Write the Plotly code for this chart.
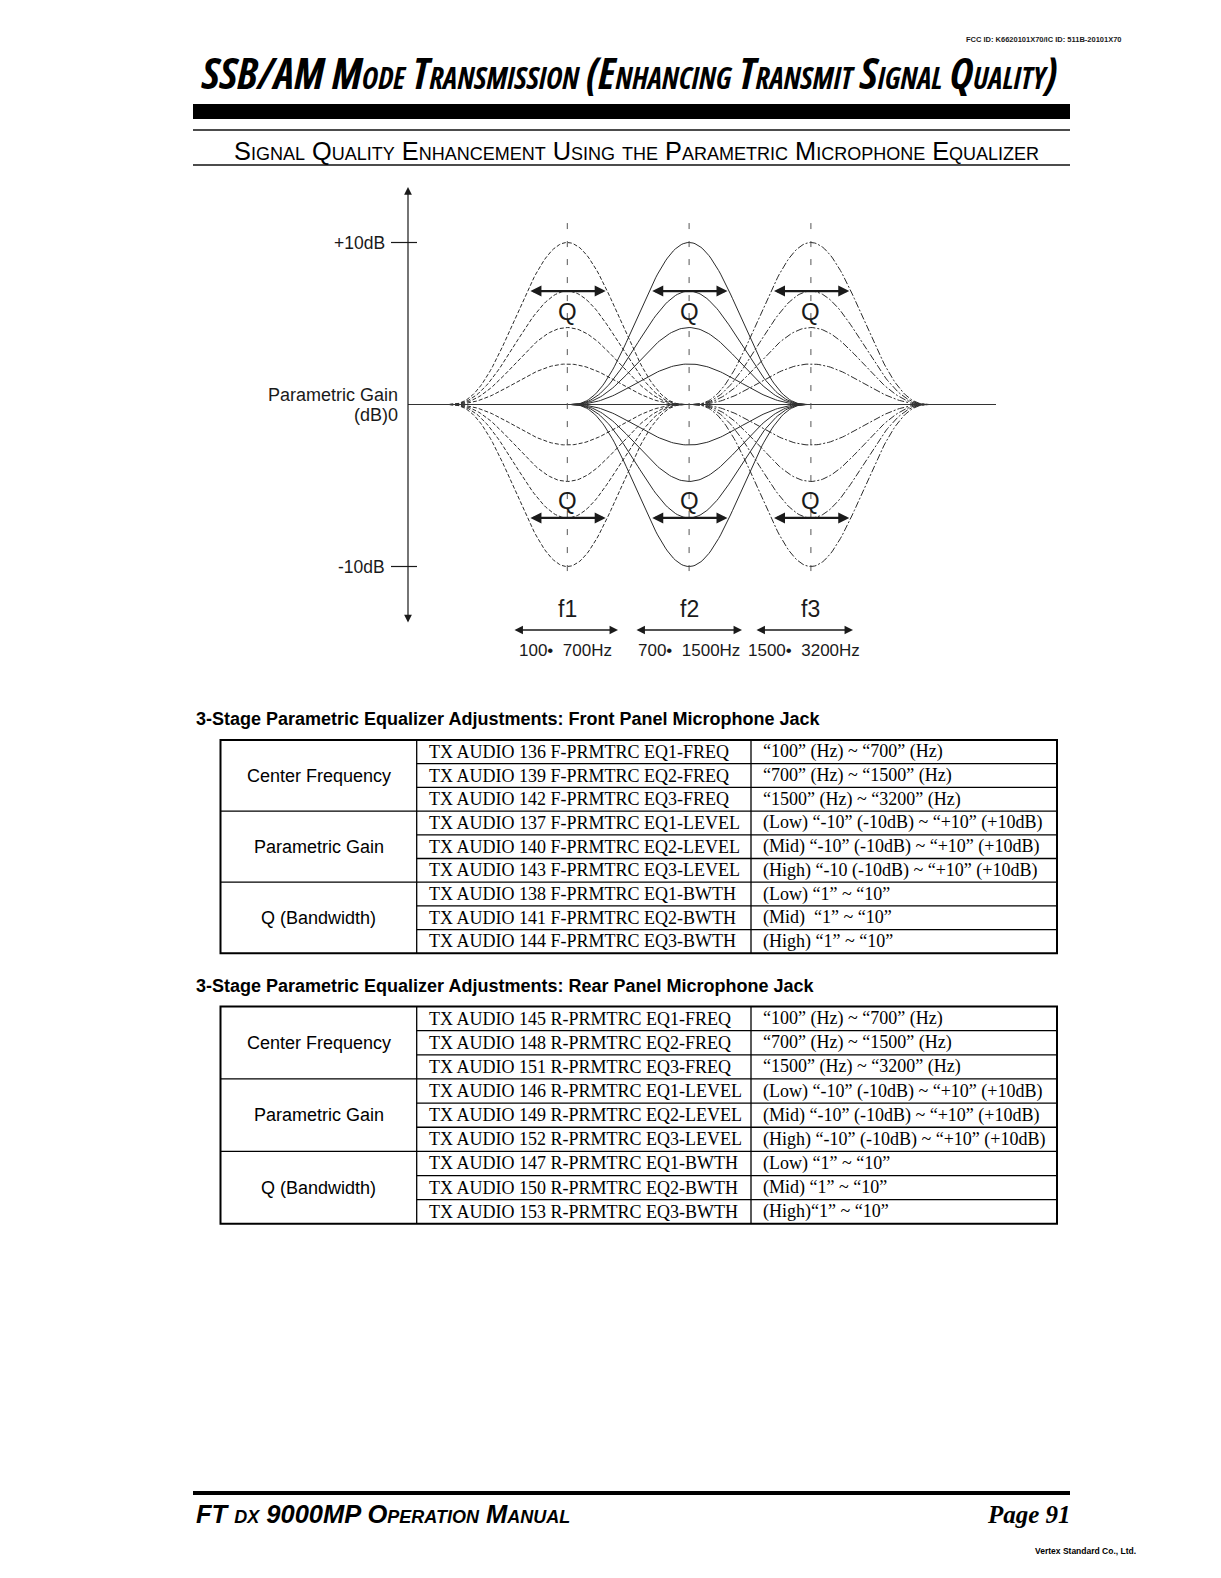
import numpy as np
import plotly.graph_objects as go

W, H = 1221, 1578
OFF = 8  # default page margin of the html body

# ---------------- data ----------------
center_labels = ["f1", "f2", "f3"]
center_pos = [1.0, 2.0, 3.0]
range_labels = ["100\u2022  700Hz", "700\u2022  1500Hz", "1500\u2022  3200Hz"]
range_span = [(513, 618), (635, 742), (755, 853)]          # px extents of the range arrows
gain_levels = [10, 7, 4.75, 2.5, -2.5, -4.75, -7, -10]     # dB
band_halfwidth = 0.97                                       # in f-spacing units
q_halfwidth = 0.315
q_level = 7
axis_tick_values = [10, -10]
axis_tick_labels = ["+10dB", "-10dB"]

table_groups = ["Center Frequency", "Parametric Gain", "Q (Bandwidth)"]
front_items = [
    "TX AUDIO 136 F-PRMTRC EQ1-FREQ", "TX AUDIO 139 F-PRMTRC EQ2-FREQ", "TX AUDIO 142 F-PRMTRC EQ3-FREQ",
    "TX AUDIO 137 F-PRMTRC EQ1-LEVEL", "TX AUDIO 140 F-PRMTRC EQ2-LEVEL", "TX AUDIO 143 F-PRMTRC EQ3-LEVEL",
    "TX AUDIO 138 F-PRMTRC EQ1-BWTH", "TX AUDIO 141 F-PRMTRC EQ2-BWTH", "TX AUDIO 144 F-PRMTRC EQ3-BWTH",
]
front_ranges = [
    "\u201c100\u201d (Hz) ~ \u201c700\u201d (Hz)", "\u201c700\u201d (Hz) ~ \u201c1500\u201d (Hz)",
    "\u201c1500\u201d (Hz) ~ \u201c3200\u201d (Hz)",
    "(Low) \u201c-10\u201d (-10dB) ~ \u201c+10\u201d (+10dB)", "(Mid) \u201c-10\u201d (-10dB) ~ \u201c+10\u201d (+10dB)",
    "(High) \u201c-10 (-10dB) ~ \u201c+10\u201d (+10dB)",
    "(Low) \u201c1\u201d ~ \u201c10\u201d", "(Mid)  \u201c1\u201d ~ \u201c10\u201d", "(High) \u201c1\u201d ~ \u201c10\u201d",
]
rear_items = [
    "TX AUDIO 145 R-PRMTRC EQ1-FREQ", "TX AUDIO 148 R-PRMTRC EQ2-FREQ", "TX AUDIO 151 R-PRMTRC EQ3-FREQ",
    "TX AUDIO 146 R-PRMTRC EQ1-LEVEL", "TX AUDIO 149 R-PRMTRC EQ2-LEVEL", "TX AUDIO 152 R-PRMTRC EQ3-LEVEL",
    "TX AUDIO 147 R-PRMTRC EQ1-BWTH", "TX AUDIO 150 R-PRMTRC EQ2-BWTH", "TX AUDIO 153 R-PRMTRC EQ3-BWTH",
]
rear_ranges = [
    "\u201c100\u201d (Hz) ~ \u201c700\u201d (Hz)", "\u201c700\u201d (Hz) ~ \u201c1500\u201d (Hz)",
    "\u201c1500\u201d (Hz) ~ \u201c3200\u201d (Hz)",
    "(Low) \u201c-10\u201d (-10dB) ~ \u201c+10\u201d (+10dB)", "(Mid) \u201c-10\u201d (-10dB) ~ \u201c+10\u201d (+10dB)",
    "(High) \u201c-10\u201d (-10dB) ~ \u201c+10\u201d (+10dB)",
    "(Low) \u201c1\u201d ~ \u201c10\u201d", "(Mid) \u201c1\u201d ~ \u201c10\u201d", "(High)\u201c1\u201d ~ \u201c10\u201d",
]

# ---------------- geometry helpers ----------------
F1_PX, F_UNIT = 567.3, 121.8      # page px of f1 and px per f-spacing
ZERO_PX, DB_UNIT = 404.5, 16.2    # page px of 0 dB and px per dB
FW, FH = W - OFF, H - OFF


def dx(px):
    return 1 + (px - F1_PX) / F_UNIT


def dy(py):
    return (ZERO_PX - py) / DB_UNIT


def pxp(px):
    return (px - OFF) / FW


def pyp(py):
    return 1 - (py - OFF) / FH


SANS = "Liberation Sans, Arial, sans-serif"
SERIF = "Liberation Serif, Times New Roman, serif"
INK = "#1a1a1a"

fig = go.Figure()

# ---------------- EQ curves ----------------
dash_styles = ["4px,2px", "solid", "7px,2px,2px,2px"]
t = np.linspace(-1, 1, 121)
bell = (0.5 * (1 + np.cos(np.pi * t))) ** 1.2
for ci, c in enumerate(center_pos):
    for g in gain_levels:
        fig.add_trace(go.Scatter(
            x=c + band_halfwidth * t, y=g * bell, mode="lines",
            line=dict(color="#2b2b2b", width=1, dash=dash_styles[ci]),
            hoverinfo="skip", showlegend=False))

shapes = []
ann = []

# baseline
shapes.append(dict(type="line", xref="x", yref="y", x0=dx(408), x1=dx(996), y0=0, y1=0,
                   line=dict(color="#333", width=1.2)))
# centre dashed lines
for c in center_pos:
    shapes.append(dict(type="line", xref="x", yref="y", x0=c, x1=c, y0=11.2, y1=-10.7,
                       line=dict(color="#555", width=1, dash="6px,12px")))
# y-axis double arrow
ann.append(dict(x=dx(408), y=dy(187), ax=dx(408), ay=dy(624), xref="x", yref="y", axref="x", ayref="y",
                text="", showarrow=True, arrowhead=2, arrowsize=1.3, arrowwidth=1.2, arrowcolor=INK,
                arrowside="end+start", standoff=0, startstandoff=0))
# ticks and tick labels
for v, lab in zip(axis_tick_values, axis_tick_labels):
    shapes.append(dict(type="line", xref="x", yref="y", x0=dx(391), x1=dx(417), y0=v, y1=v,
                       line=dict(color=INK, width=1.2)))
    ann.append(dict(x=dx(387), y=v, xref="x", yref="y", text=lab, showarrow=False, xanchor="right",
                    yanchor="middle", font=dict(family=SANS, size=17.5, color=INK)))
ann.append(dict(x=dx(400), y=dy(395), xref="x", yref="y", text="Parametric Gain", showarrow=False,
                xanchor="right", yanchor="middle", font=dict(family=SANS, size=18, color=INK)))
ann.append(dict(x=dx(400), y=dy(415), xref="x", yref="y", text="(dB)0", showarrow=False,
                xanchor="right", yanchor="middle", font=dict(family=SANS, size=18, color=INK)))

# Q arrows + labels
for c in center_pos:
    for sgn in (1, -1):
        ann.append(dict(x=c + q_halfwidth, y=sgn * q_level, ax=c - q_halfwidth, ay=sgn * q_level,
                        xref="x", yref="y", axref="x", ayref="y", text="", showarrow=True,
                        arrowhead=2, arrowsize=1, arrowwidth=2.2, arrowcolor=INK,
                        arrowside="end+start", standoff=0, startstandoff=0))
        ann.append(dict(x=c, y=sgn * 5.85 - 0.1, xref="x", yref="y", text="Q", showarrow=False,
                        xanchor="center", yanchor="middle", font=dict(family=SANS, size=24, color=INK)))

# frequency labels, ranges
for c, lab, rl, (a, b) in zip(center_pos, center_labels, range_labels, range_span):
    ann.append(dict(x=c, y=dy(609), xref="x", yref="y", text=lab, showarrow=False,
                    xanchor="center", yanchor="middle", font=dict(family=SANS, size=23, color=INK)))
    ann.append(dict(x=dx(b), y=dy(630), ax=dx(a), ay=dy(630), xref="x", yref="y", axref="x", ayref="y",
                    text="", showarrow=True, arrowhead=2, arrowsize=1.3, arrowwidth=1.3, arrowcolor=INK,
                    arrowside="end+start", standoff=0, startstandoff=0))
    ann.append(dict(x=dx((a + b) / 2), y=dy(650), xref="x", yref="y", text=rl, showarrow=False,
                    xanchor="center", yanchor="middle", font=dict(family=SANS, size=17, color=INK)))

# ---------------- page header ----------------
ann.append(dict(x=pxp(1124), y=pyp(40), xref="paper", yref="paper", text="FCC ID: K6620101X70/IC ID: 511B-20101X70",
                showarrow=False, xanchor="right", yanchor="middle",
                font=dict(family=SANS, size=7.5, color=INK, weight="bold")))
ann.append(dict(x=pxp(199), y=pyp(73), xref="paper", yref="paper",
                text='<span style="font-stretch:condensed">SSB/AM Mode Transmission (Enhancing Transmit Signal Quality)</span>',
                showarrow=False, xanchor="left", yanchor="middle",
                font=dict(family="Open Sans, Liberation Sans, sans-serif", size=43.4, color="#000",
                          weight="bold", style="italic", variant="small-caps")))
shapes.append(dict(type="rect", xref="paper", yref="paper", x0=pxp(193), x1=pxp(1070), y0=pyp(104), y1=pyp(119),
                   fillcolor="#000", line=dict(width=0)))
shapes.append(dict(type="line", xref="paper", yref="paper", x0=pxp(193), x1=pxp(1070), y0=pyp(130), y1=pyp(130),
                   line=dict(color="#111", width=1.5)))
ann.append(dict(x=pxp(232), y=pyp(151), xref="paper", yref="paper",
                text="Signal Quality Enhancement Using the Parametric Microphone Equalizer",
                showarrow=False, xanchor="left", yanchor="middle",
                font=dict(family=SANS, size=25.35, color="#000", variant="small-caps")))
shapes.append(dict(type="line", xref="paper", yref="paper", x0=pxp(193), x1=pxp(1070), y0=pyp(165), y1=pyp(165),
                   line=dict(color="#111", width=1.5)))


# ---------------- tables ----------------
def draw_table(title, title_y, top, row_h, items, ranges):
    left, c1, c2, right = 220.5, 416.7, 751, 1057
    bottom = top + 9 * row_h
    ann.append(dict(x=pxp(194), y=pyp(title_y), xref="paper", yref="paper", text=title, showarrow=False,
                    xanchor="left", yanchor="middle", font=dict(family=SANS, size=18, color="#000", weight="bold")))
    shapes.append(dict(type="rect", xref="paper", yref="paper", x0=pxp(left), x1=pxp(right), y0=pyp(top),
                       y1=pyp(bottom), line=dict(color="#000", width=2)))
    for xc in (c1, c2):
        shapes.append(dict(type="line", xref="paper", yref="paper", x0=pxp(xc), x1=pxp(xc), y0=pyp(top),
                           y1=pyp(bottom), line=dict(color="#000", width=1.3)))
    for r in range(1, 9):
        yy = top + r * row_h
        x0 = left if r % 3 == 0 else c1
        shapes.append(dict(type="line", xref="paper", yref="paper", x0=pxp(x0), x1=pxp(right), y0=pyp(yy),
                           y1=pyp(yy), line=dict(color="#000", width=1.3)))
    for gi, gname in enumerate(table_groups):
        ann.append(dict(x=pxp((left + c1) / 2), y=pyp(top + (gi * 3 + 1.5) * row_h), xref="paper", yref="paper",
                        text=gname, showarrow=False, xanchor="center", yanchor="middle",
                        font=dict(family=SANS, size=18, color="#000")))
    for r, (it, rg) in enumerate(zip(items, ranges)):
        yc = top + (r + 0.5) * row_h
        ann.append(dict(x=pxp(427), y=pyp(yc), xref="paper", yref="paper", text=it, showarrow=False,
                        xanchor="left", yanchor="middle", font=dict(family=SERIF, size=18, color="#000")))
        ann.append(dict(x=pxp(761), y=pyp(yc), xref="paper", yref="paper", text=rg, showarrow=False,
                        xanchor="left", yanchor="middle", font=dict(family=SERIF, size=18, color="#000")))


draw_table("3-Stage Parametric Equalizer Adjustments: Front Panel Microphone Jack", 719, 740, 23.7,
           front_items, front_ranges)
draw_table("3-Stage Parametric Equalizer Adjustments: Rear Panel Microphone Jack", 985.5, 1006.5, 24.15,
           rear_items, rear_ranges)

# ---------------- footer ----------------
shapes.append(dict(type="rect", xref="paper", yref="paper", x0=pxp(193), x1=pxp(1070), y0=pyp(1491), y1=pyp(1495),
                   fillcolor="#000", line=dict(width=0)))
ann.append(dict(x=pxp(194), y=pyp(1514), xref="paper", yref="paper", text="FT dx 9000MP Operation Manual",
                showarrow=False, xanchor="left", yanchor="middle",
                font=dict(family=SANS, size=25.5, color="#000", weight="bold", style="italic", variant="small-caps")))
ann.append(dict(x=pxp(1073), y=pyp(1514), xref="paper", yref="paper", text="Page 91",
                showarrow=False, xanchor="right", yanchor="middle",
                font=dict(family=SERIF, size=25, color="#000", weight="bold", style="italic")))
ann.append(dict(x=pxp(1138), y=pyp(1551), xref="paper", yref="paper", text="Vertex Standard Co., Ltd.",
                showarrow=False, xanchor="right", yanchor="middle",
                font=dict(family=SANS, size=8.5, color="#000", weight="bold")))

fig.update_layout(
    width=FW, height=FH, autosize=False,
    margin=dict(l=0, r=0, t=0, b=0),
    paper_bgcolor="white", plot_bgcolor="white",
    xaxis=dict(visible=False, range=[dx(OFF), dx(W)], domain=[0, 1], fixedrange=True),
    yaxis=dict(visible=False, range=[dy(H), dy(OFF)], domain=[0, 1], fixedrange=True),
    shapes=shapes, annotations=ann, showlegend=False,
)
fig.write_html("out.html")
